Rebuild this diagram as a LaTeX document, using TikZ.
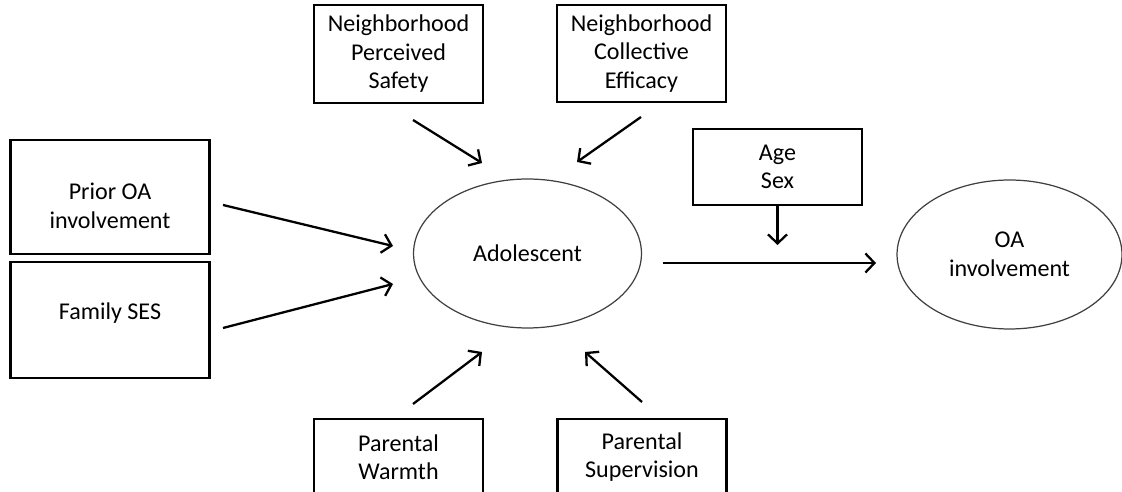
\documentclass[tikz,border=0pt]{standalone}
\usepackage{fontspec}
\setmainfont{Carlito}
\usetikzlibrary{arrows.meta,shapes.geometric}

\begin{document}
\begin{tikzpicture}[
        x=0.02cm, y=-0.02cm,
        box/.style={
        rectangle, draw=black, line width=1.3pt,
        inner sep=0pt, minimum width=3.38cm, minimum height=1.52cm,
        align=center, font=\fontsize{13.7}{16.2}\selectfont},
        txt/.style={
        align=center, inner sep=0pt,
        font=\fontsize{13.7}{16.2}\selectfont},
        oval/.style={
        ellipse, draw=black!75, line width=0.7pt,
        inner sep=0pt, minimum width=4.56cm, minimum height=2.98cm,
        align=center, font=\fontsize{13.7}{16.2}\selectfont},
        path/.style={
        line width=1.3pt,
        -{Straight Barb[length=1.8mm,width=3.8mm,line width=1.3pt]}},
        ]

        \useasboundingbox (0,0) rectangle (1122,492);
        \clip (0,0) rectangle (1122,492);

        % left boxes
        \node (prior) [box, minimum width=3.98cm, minimum height=2.28cm] at (110,197){};
        \node [txt] at (110,206){Prior OA\\involvement};
        \node (ses) [box, minimum width=3.98cm, minimum height=2.32cm] at (110,320){};
        \node [txt] at (110,313){Family SES};

        % top boxes
        \node (safety) [box, minimum height=1.96cm] at (398.5,54){Neighborhood\\Perceived\\Safety};
        \node (efficacy) [box, minimum height=1.94cm] at (641.5,53.5){Neighborhood\\Collective\\Efficacy};
        \node (agesex) [box] at (777.5,167){Age\\Sex};

        % bottom boxes
        \node (warmth) [box] at (398.5,457){Parental\\Warmth};
        \node (superv) [box] at (642,457){Parental\\Supervision};

        % ellipses
        \node (adol) [oval] at (527.5,253.5){Adolescent};
        \node (oa) [oval, minimum width=4.5cm] at (1009.5,254.5){OA\\involvement};

        % free ends of the arrows
        \coordinate (prior-s) at (223,205);   \coordinate (prior-e) at (393,246);
        \coordinate (ses-s) at (223,328);     \coordinate (ses-e) at (393,284);
        \coordinate (safety-s) at (413,120);  \coordinate (safety-e) at (482,163);
        \coordinate (efficacy-s) at (641,117);\coordinate (efficacy-e) at (577,162);
        \coordinate (warmth-s) at (413,404);  \coordinate (warmth-e) at (482,352);
        \coordinate (superv-s) at (642,402);  \coordinate (superv-e) at (585,352);
        \coordinate (adol-s) at (663,263);    \coordinate (oa-e) at (876,263);
        \coordinate (age-e) at (777.5,245);

        \draw [path] (prior-s) -- (prior-e);
        \draw [path] (ses-s) -- (ses-e);
        \draw [path] (safety-s) -- (safety-e);
        \draw [path] (efficacy-s) -- (efficacy-e);
        \draw [path] (warmth-s) -- (warmth-e);
        \draw [path] (superv-s) -- (superv-e);
        \draw [path] (adol-s) -- (oa-e);
        \draw [path] (agesex.south) -- (age-e);
    \end{tikzpicture}
\end{document}
